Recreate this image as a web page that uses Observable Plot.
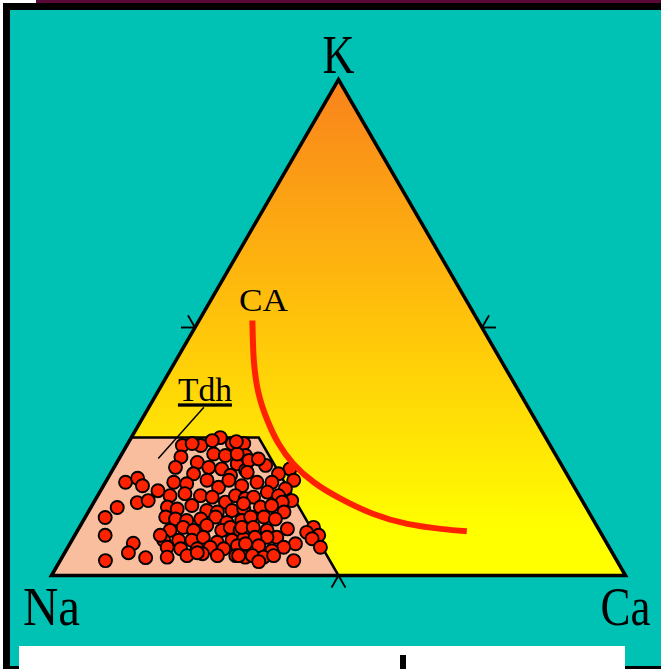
<!DOCTYPE html>
<html><head><meta charset="utf-8">
<script src="https://cdn.jsdelivr.net/npm/d3@7"></script>
<script src="https://cdn.jsdelivr.net/npm/@observablehq/plot@0.6"></script>
<style>
html,body{margin:0;padding:0;background:#fff;}
#frame{position:relative;width:661px;height:669px;overflow:hidden;}
.band{position:absolute;}
#chart{position:absolute;left:0;top:0;}
</style></head><body>
<div id="frame">
 <div class="band" style="left:36px;top:0;width:625px;height:4px;background:#5a0838"></div>
 <div class="band" style="left:3px;top:3px;width:658px;height:666px;background:#000"></div>
 <div class="band" style="left:10px;top:10px;width:651px;height:656px;background:#00C2B4"></div>
 <div class="band" style="left:19px;top:646px;width:606px;height:23px;background:#fff"></div>
 <div class="band" style="left:400px;top:655px;width:6px;height:14px;background:#000"></div>
 <div id="chart"></div>
</div>
<script>
// Ternary end-members (Ca %, K %; Na = 100 - Ca - K)
const vertexNames = ["Na", "Ca", "K"];
const vertexCa = [0, 100, 0];
const vertexK = [0, 0, 100];

// Tdh field: Na >= 50 %, K <= 27.8 %
const tdhNaMin = 50;
const tdhKMax = 27.8;

// Samples (Ca %, K %)
const sampleCa = [9.7,12.9,15.5,18.2,20.2,11.2,10.6,14.0,16.0,18.2,21.1,21.7,10.7,14.5,16.5,18.9,21.1,23.2,11.9,14.3,17.5,20.2,21.3,24.1,12.6,15.0,17.9,20.1,22.9,24.0,26.0,13.3,15.2,17.4,20.5,22.5,24.9,26.8,14.0,15.9,18.0,20.3,22.7,25.2,27.6,16.1,18.1,20.2,22.0,25.1,26.3,28.3,16.0,18.6,20.9,22.6,25.5,27.9,29.8,17.3,19.8,22.7,24.8,27.3,29.4,18.3,21.6,24.1,26.9,30.1,31.9,20.1,22.8,26.2,24.3,30.8,29.3,32.6,23.7,26.4,29.0,32.0,27.3,29.2,31.5,34.3,32.8,26.2,29.5,31.3,34.1,31.1,28.8,33.3,36.4,28.3,30.3,33.0,35.4,40.8,40.1,42.5,41.7,39.3,44.0,37.6,33.7,31.6,30.6,33.1,35.9,33.0,35.1,36.7,40.7,30.6,3.5,5.2,6.8,7.6,9.3,10.0,3.5,4.6,5.3,11.0,11.1,14.6,7.9,14.9,34.7,23.1,14.4,18.7];
const sampleK = [26.2,26.2,27.8,26.6,26.6,26.6,23.9,22.8,24.5,24.2,22.5,24.2,21.8,20.5,21.8,21.5,20.2,21.2,18.8,18.5,19.2,17.8,19.2,18.1,16.1,16.5,16.1,15.8,14.8,16.1,15.5,13.8,13.4,14.1,13.1,12.8,13.1,13.4,11.8,11.4,11.1,11.4,11.8,10.7,11.1,9.1,9.7,9.1,10.1,9.1,9.7,9.1,7.1,7.1,7.1,7.7,6.7,7.1,7.4,5.7,5.4,5.4,5.7,5.4,6.0,3.7,4.0,4.4,4.0,4.0,3.7,24.5,23.2,22.2,23.5,21.5,20.5,19.2,20.8,18.8,18.8,17.5,15.8,16.8,16.1,15.1,14.8,14.5,13.8,14.1,12.8,11.8,11.8,11.4,9.4,9.7,9.7,9.1,7.7,9.7,8.7,8.1,7.4,6.4,5.7,5.7,7.7,7.7,6.4,6.0,5.0,4.0,3.7,4.0,3.0,4.0,18.8,19.6,18.1,14.7,15.1,17.1,11.7,13.7,8.1,6.5,4.6,3.6,3.0,8.1,2.8,4.6,27.2,27.0];

// Calc-alkaline trend (CA)
const caCurveCa = [9.3,13.6,17.8,22.0,26.3,30.9,36.3,42.6,49.9,56.8,63.1,67.9];
const caCurveK = [51.4,43.3,36.6,31.25,26.55,22.5,18.8,15.5,12.4,10.4,9.4,8.9];

// Tdh label leader (Ca %, K %)
const tdhLeaderCa = [9.6, 6.8];
const tdhLeaderK = [33.9, 23.6];

// ---- build ----
const W = 661, H = 669, mL = 51, mR = 36, mT = 79, mB = 94;
const kx = (W - mL - mR) / 100, ky = (H - mT - mB) / 100;
const P = (ca, k) => ({x: ca + k / 2, y: k});

const triPts = [0, 1, 2, 0, 1].map(i => P(vertexCa[i], vertexK[i]));
const triFill = [0, 1, 2].map(i => P(vertexCa[i], vertexK[i]));
const naMax = 100 - tdhNaMin;
const trap = [P(0, 0), P(naMax, 0), P(naMax - tdhKMax, tdhKMax), P(0, tdhKMax), P(0, 0), P(naMax, 0)];
const samples = sampleCa.map((c, i) => P(c, sampleK[i]));
const curve = caCurveCa.map((c, i) => P(c, caCurveK[i]));

// 50% tick arrowheads at edge midpoints, pointing inward
const mids = [
  {m: P(0, 50), n: [-Math.cos(Math.PI/6), -0.5]},
  {m: P(50, 50), n: [Math.cos(Math.PI/6), -0.5]},
  {m: P(50, 0), n: [0, 1]}
];
const legLen = 14;
const legs = [];
for (const {m, n} of mids) {
  for (const a of [Math.PI/6, -Math.PI/6]) {
    const vx = n[0]*Math.cos(a) - n[1]*Math.sin(a);
    const vy = n[0]*Math.sin(a) + n[1]*Math.cos(a);
    legs.push({x1: m.x, y1: m.y, x2: m.x + vx*legLen/kx, y2: m.y - vy*legLen/ky});
  }
}
const leader = [{x1: P(tdhLeaderCa[0], tdhLeaderK[0]).x, y1: tdhLeaderK[0], x2: P(tdhLeaderCa[1], tdhLeaderK[1]).x, y2: tdhLeaderK[1]}];

const vLabels = vertexNames.map((n, i) => ({name: n, ...P(vertexCa[i], vertexK[i])}));
const serif = "Liberation Serif, Times New Roman, serif";

const plot = Plot.plot({
  width: W, height: H, marginLeft: mL, marginRight: mR, marginTop: mT, marginBottom: mB,
  x: {domain: [0, 100], axis: null},
  y: {domain: [0, 100], axis: null},
  style: {background: "transparent", overflow: "visible"},
  marks: [
    Plot.line(triFill, {x: "x", y: "y", fill: "url(#triGrad)", stroke: "none"}),
    Plot.line(trap, {x: "x", y: "y", fill: "#F8BE9E", stroke: "#000", strokeWidth: 2.5, strokeLinejoin: "miter", strokeMiterlimit: 10}),
    Plot.line(triPts, {x: "x", y: "y", fill: "none", stroke: "#000", strokeWidth: 3.5, strokeLinejoin: "miter", strokeMiterlimit: 10}),
    Plot.link(legs, {x1: "x1", y1: "y1", x2: "x2", y2: "y2", stroke: "#000", strokeWidth: 1.9}),
    Plot.link(leader, {x1: "x1", y1: "y1", x2: "x2", y2: "y2", stroke: "#000", strokeWidth: 1.5}),
    Plot.dot(samples, {x: "x", y: "y", r: 6.5, fill: "#FF2200", stroke: "#000", strokeWidth: 1.9}),
    Plot.line(curve, {x: "x", y: "y", curve: "natural", stroke: "#FF2200", strokeWidth: 6, strokeLinecap: "butt"}),
    Plot.text(vLabels.filter(d => d.name === "K"), {x: "x", y: "y", text: "name", dy: -7, lineAnchor: "bottom", textAnchor: "middle", fontSize: 54, fontFamily: serif, fill: "#000"}),
    Plot.text(vLabels.filter(d => d.name !== "K"), {x: "x", y: "y", text: "name", dy: 49, lineAnchor: "bottom", textAnchor: "middle", fontSize: 54, fontFamily: serif, fill: "#000"}),
    Plot.text([curve[0]], {x: "x", y: "y", text: () => "CA", dx: 11, dy: -10, lineAnchor: "bottom", textAnchor: "middle", fontSize: 32, fontFamily: serif, fill: "#000"}),
    Plot.text([leader[0]], {x: "x1", y: "y1", text: () => "Tdh", dx: 1, dy: -6, lineAnchor: "bottom", textAnchor: "middle", fontSize: 33, fontFamily: serif, fill: "#000"})
  ]
});

const svg = d3.select(plot);
const grad = svg.insert("defs", ":first-child").append("linearGradient")
  .attr("id", "triGrad").attr("x1", 0).attr("y1", 0).attr("x2", 0).attr("y2", 1);
[[0, "#F9821C"], [0.5, "#FFC50A"], [0.91, "#FFFF00"], [1, "#FFFF00"]].forEach(([o, c]) =>
  grad.append("stop").attr("offset", o).attr("stop-color", c));

const lengths = {K: 32, Na: 57, Ca: 50, CA: 49, Tdh: 54};
svg.selectAll("text").each(function() {
  const t = this.textContent;
  if (lengths[t]) {
    d3.select(this).attr("textLength", lengths[t]).attr("lengthAdjust", "spacingAndGlyphs");
  }
  if (t === "Tdh") d3.select(this).style("text-decoration", "underline");
});

document.getElementById("chart").appendChild(plot);
</script>
</body></html>
